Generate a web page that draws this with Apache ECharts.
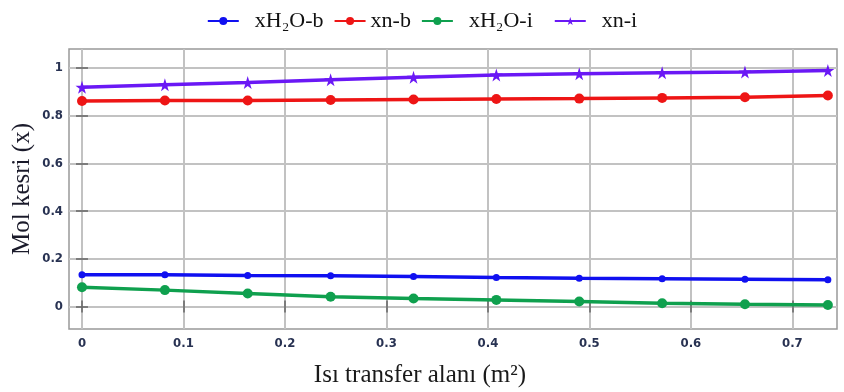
<!DOCTYPE html>
<html>
<head>
<meta charset="utf-8">
<script src="https://cdn.jsdelivr.net/npm/echarts@6/dist/echarts.min.js"></script>
<style>html,body{margin:0;padding:0;background:#fff;}#c{width:844px;height:392px;}</style>
</head>
<body>
<div id="c"></div>
<script>
const xVals = [0, 0.0817, 0.1633, 0.245, 0.3267, 0.4083, 0.49, 0.5717, 0.6533, 0.735];
const xH2Ob = [0.133, 0.133, 0.130, 0.129, 0.126, 0.122, 0.119, 0.117, 0.115, 0.112];
const xnb   = [0.862, 0.864, 0.864, 0.866, 0.868, 0.870, 0.872, 0.875, 0.878, 0.885];
const xH2Oi = [0.081, 0.069, 0.055, 0.041, 0.034, 0.028, 0.021, 0.014, 0.010, 0.007];
const xni   = [0.920, 0.930, 0.940, 0.951, 0.962, 0.971, 0.976, 0.980, 0.984, 0.990];
const xTicks = [0, 0.1, 0.2, 0.3, 0.4, 0.5, 0.6, 0.7];
const yTicks = [0, 0.2, 0.4, 0.6, 0.8, 1];
const seriesNames = ['xH₂O-b', 'xn-b', 'xH₂O-i', 'xn-i'];
const xTitle = 'Isı transfer alanı (m²)';
const yTitle = 'Mol kesri (x)';

const pairs = arr => xVals.map((x, i) => [x, arr[i]]);
const labelStyle = {fontFamily: "'Liberation Sans Narrow', 'DejaVu Sans Condensed', 'DejaVu Sans'", fontSize: 13, fontWeight: 'bold', color: '#283252'};
const gridLine = {show: true, lineStyle: {color: '#c2c2c2', width: 2}};
const tickStyle = {show: true, inside: true, length: 6, lineStyle: {color: '#666', width: 1.5}};
const legendPad = {'xH₂O-b': '  ', 'xn-b': '', 'xH₂O-i': '  ', 'xn-i': '  '};
const legendTrail = {'xH₂O-b': '', 'xn-b': '', 'xH₂O-i': '  ', 'xn-i': ''};

function mk(name, data, color, symbol, size) {
  return {
    name, type: 'line', data: pairs(data), symbol, symbolSize: size,
    lineStyle: {color, width: 3.5}, itemStyle: {color}, showSymbol: true,
    emphasis: {disabled: true}
  };
}

const chart = echarts.init(document.getElementById('c'), null, {renderer: 'canvas'});
chart.setOption({
  animation: false,
  backgroundColor: '#fff',
  legend: {
    top: 5, left: 'center', itemWidth: 31, itemHeight: 10, itemGap: 10,
    textStyle: {fontFamily: 'Liberation Serif', fontSize: 22, color: '#111'},
    formatter: n => legendPad[n] + n + legendTrail[n],
    data: seriesNames
  },
  grid: {left: 69, right: 7, top: 49, bottom: 63, show: true, borderColor: '#999', borderWidth: 1.5, backgroundColor: '#fff', outerBoundsMode: 'none', containLabel: false},
  xAxis: [{
    type: 'value', min: -0.0128, max: 0.744,
    axisLine: {show: false},
    axisTick: Object.assign({customValues: xTicks}, tickStyle),
    axisLabel: Object.assign({customValues: xTicks, margin: 8}, labelStyle),
    splitLine: gridLine,
    name: xTitle, nameLocation: 'middle', nameGap: 34,
    nameTextStyle: {fontFamily: 'Liberation Serif', fontSize: 25, color: '#1a1a1a', padding: [0, 66, 0, 0]}
  }, {
    type: 'value', position: 'top', min: -0.0128, max: 0.744,
    axisLine: {show: false},
    axisTick: Object.assign({customValues: xTicks}, tickStyle),
    axisLabel: {show: false},
    splitLine: {show: false}
  }],
  yAxis: [{
    type: 'value', min: -0.094, max: 1.08,
    axisLine: {show: false},
    axisTick: Object.assign({customValues: yTicks}, tickStyle),
    axisLabel: Object.assign({customValues: yTicks, margin: 6}, labelStyle),
    splitLine: gridLine,
    name: yTitle, nameLocation: 'middle', nameGap: 34, nameRotate: 90, nameMoveOverlap: false,
    nameTextStyle: {fontFamily: 'Liberation Serif', fontSize: 25, color: '#1a1a2a'}
  }, {
    type: 'value', position: 'right', min: -0.094, max: 1.08,
    axisLine: {show: false},
    axisTick: Object.assign({customValues: yTicks}, tickStyle),
    axisLabel: {show: false},
    splitLine: {show: false}
  }],
  series: [
    mk(seriesNames[0], xH2Ob, '#1010f0', 'circle', 7),
    mk(seriesNames[1], xnb, '#ee1515', 'circle', 10),
    mk(seriesNames[2], xH2Oi, '#0fa04e', 'circle', 10),
    mk(seriesNames[3], xni, '#6a18f5', 'path://M50,0 L61,35 L98,35 L68,57 L79,91 L50,70 L21,91 L32,57 L2,35 L39,35 Z', 13)
  ]
});
</script>
</body>
</html>
